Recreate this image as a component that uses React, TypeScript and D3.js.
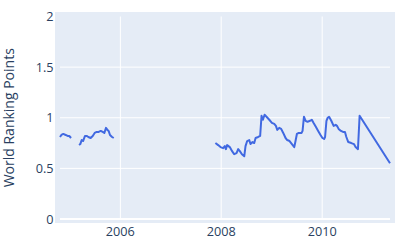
import React from "react";
import * as d3 from "d3";

const seg1Dates = ["2004-10-21","2004-10-31","2004-11-14","2004-12-01","2004-12-15","2004-12-27","2005-01-09"];
const seg1Values = [0.81,0.83,0.84,0.83,0.82,0.82,0.80];

const seg2Dates = ["2005-03-08","2005-03-17","2005-03-27","2005-04-06","2005-04-20","2005-05-02","2005-05-14","2005-05-31","2005-06-15","2005-06-29","2005-07-14","2005-07-28","2005-08-12","2005-08-26","2005-09-07","2005-09-19","2005-09-29","2005-10-08","2005-10-18","2005-11-02","2005-11-14"];
const seg2Values = [0.73,0.74,0.78,0.77,0.82,0.82,0.81,0.80,0.82,0.85,0.86,0.86,0.87,0.86,0.85,0.90,0.88,0.87,0.83,0.81,0.80];

const seg3Dates = ["2007-11-20","2007-12-10","2007-12-27","2008-01-15","2008-01-27","2008-02-04","2008-02-13","2008-03-03","2008-03-20","2008-04-04","2008-04-21","2008-05-03","2008-05-15","2008-05-30","2008-06-16","2008-06-25","2008-07-07","2008-07-22","2008-07-31","2008-08-15","2008-08-27","2008-09-06","2008-09-25","2008-10-09","2008-10-19","2008-10-29","2008-11-10","2008-11-24","2008-12-14","2009-01-02","2009-01-19","2009-01-31","2009-02-10","2009-02-24","2009-03-10","2009-03-25","2009-04-11","2009-04-23","2009-05-10","2009-05-27","2009-06-13","2009-06-22","2009-07-02","2009-07-16","2009-08-05","2009-08-12","2009-08-22","2009-09-03","2009-09-17","2009-10-04","2009-10-18","2009-10-30","2009-11-16","2009-12-03","2009-12-20","2010-01-03","2010-01-15","2010-01-22","2010-02-01","2010-02-10","2010-02-20","2010-03-08","2010-03-25","2010-04-09","2010-04-18","2010-04-30","2010-05-17","2010-06-01","2010-06-15","2010-06-25","2010-07-09","2010-07-31","2010-08-19","2010-08-31","2010-09-17","2010-09-29","2011-05-07"];
const seg3Values = [0.75,0.73,0.71,0.70,0.72,0.69,0.73,0.71,0.67,0.64,0.65,0.69,0.67,0.64,0.62,0.72,0.77,0.78,0.74,0.76,0.75,0.80,0.81,0.82,1.02,0.98,1.03,1.01,0.98,0.95,0.94,0.92,0.88,0.90,0.89,0.85,0.80,0.78,0.77,0.74,0.71,0.77,0.84,0.85,0.85,0.87,1.01,0.97,0.96,0.97,0.98,0.95,0.91,0.87,0.83,0.80,0.79,0.81,0.97,1.00,1.01,0.97,0.92,0.93,0.92,0.89,0.87,0.86,0.86,0.81,0.76,0.75,0.74,0.71,0.69,1.02,0.55];

const yTicks = [0, 0.5, 1, 1.5, 2];
const xTickYears = [2006, 2008, 2010];

const W = 400, H = 250;
const bg = { x0: 55, x1: 395, y0: 12, y1: 223 };
const inner = { x0: 60, x1: 390, y0: 16.5, y1: 219 };
const textColor = "#2a3f5f";
const font = "'Open Sans', Roboto, 'DejaVu Sans', sans-serif";

type Pt = { d: Date; v: number };
const toPts = (ds: string[], vs: number[]): Pt[] => ds.map((s, i) => ({ d: new Date(s + "T00:00:00"), v: vs[i] }));
const segments = [toPts(seg1Dates, seg1Values), toPts(seg2Dates, seg2Values), toPts(seg3Dates, seg3Values)];

export default function App() {
  const all = segments.flat();
  const x = d3.scaleTime()
    .domain(d3.extent(all, (p) => p.d) as [Date, Date])
    .range([inner.x0, inner.x1]);
  const y = d3.scaleLinear().domain([0, 2]).range([inner.y1, inner.y0]);
  const line = d3.line<Pt>().x((p) => x(p.d)).y((p) => y(p.v));

  return (
    <svg width={W} height={H} style={{ position: "fixed", left: 0, top: 0 }} fontFamily={font}>
      <rect x={0} y={0} width={W} height={H} fill="#fff" />
      <rect x={bg.x0} y={bg.y0} width={bg.x1 - bg.x0} height={bg.y1 - bg.y0} fill="#E5ECF6" />
      {xTickYears.map((yr) => {
        const px = x(new Date(yr, 0, 1));
        return <line key={"gx" + yr} x1={px} x2={px} y1={inner.y0} y2={inner.y1} stroke="#fff" strokeWidth={1} />;
      })}
      {yTicks.filter((t) => t > 0 && t < 2).map((t) => (
        <line key={"gy" + t} x1={inner.x0} x2={inner.x1} y1={y(t)} y2={y(t)} stroke="#fff" strokeWidth={1} />
      ))}
      <line x1={inner.x0} x2={inner.x1} y1={y(0)} y2={y(0)} stroke="#fff" strokeWidth={2} />
      {segments.map((seg, i) => (
        <path key={"s" + i} d={line(seg) || ""} fill="none" stroke="#4169E1" strokeWidth={2} strokeLinejoin="round" />
      ))}
      {yTicks.map((t) => (
        <text key={"ty" + t} x={53.5} y={y(t)} dy="0.36em" textAnchor="end" fontSize={12.7} fill={textColor}>
          {d3.format("~g")(t)}
        </text>
      ))}
      {xTickYears.map((yr) => (
        <text key={"tx" + yr} x={x(new Date(yr, 0, 1))} y={236} textAnchor="middle" fontSize={12.7} fill={textColor}>
          {yr}
        </text>
      ))}
      <text transform={`translate(14,${(inner.y0 + inner.y1) / 2 + 0}) rotate(-90)`} textAnchor="middle" fontSize={14} fill={textColor}>
        World Ranking Points
      </text>
    </svg>
  );
}
